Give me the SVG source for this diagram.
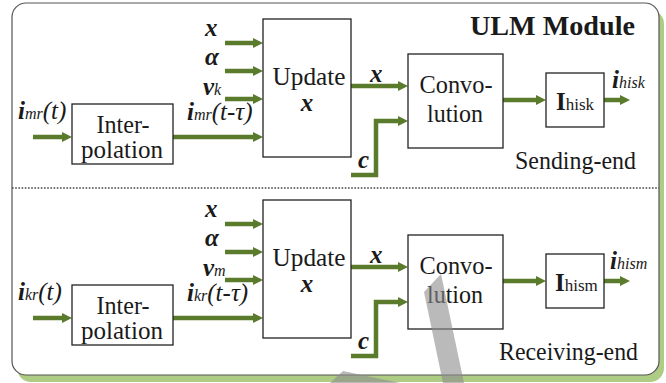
<svg xmlns="http://www.w3.org/2000/svg" width="666" height="383" viewBox="0 0 666 383">
<style>
.box{fill:#fff;stroke:#222;stroke-width:1.3}
.ar{fill:none;stroke:#5b7b2c;stroke-width:4.5;marker-end:url(#ah)}
</style>
<defs>
<marker id="ah" viewBox="0 0 10 10" refX="4" refY="5" markerWidth="10" markerHeight="10" markerUnits="userSpaceOnUse" orient="auto">
<path d="M0,0 L10,5 L0,10 z" fill="#5b7b2c"/>
</marker>
</defs>
<rect x="17" y="10" width="647" height="372" rx="14" fill="#afcc84"/>
<rect x="12" y="3" width="647" height="372" rx="14" fill="#fff" stroke="#555" stroke-width="1.2"/>
<line x1="12" y1="188" x2="659" y2="188" stroke="#444" stroke-width="1.3" stroke-dasharray="1.6 1.6"/>
<text font-family="serif" fill="#1a1a1a" x="470" y="35" font-size="27" font-weight="bold" textLength="165" lengthAdjust="spacingAndGlyphs">ULM Module</text>
<text font-family="serif" fill="#1a1a1a" font-size="25" x="515" y="169" textLength="121" lengthAdjust="spacingAndGlyphs">Sending-end</text>
<text font-family="serif" fill="#1a1a1a" font-size="25" x="499" y="360" textLength="139" lengthAdjust="spacingAndGlyphs">Receiving-end</text>

<g id="connectors">
<path class="ar" d="M225,43 H257"/>
<path class="ar" d="M225,71 H257"/>
<path class="ar" d="M225,99 H257"/>
<path class="ar" d="M33,137 H66"/>
<path class="ar" d="M173,137 H257"/>
<path class="ar" d="M351,86 H402"/>
<path class="ar" d="M351,175 H376 V121 H402"/>
<path class="ar" d="M503,100 H540"/>
<path class="ar" d="M604,100 H624"/>
<path class="ar" d="M225,224 H257"/>
<path class="ar" d="M225,252 H257"/>
<path class="ar" d="M225,280 H257"/>
<path class="ar" d="M33,318 H66"/>
<path class="ar" d="M173,318 H257"/>
<path class="ar" d="M351,267 H402"/>
<path class="ar" d="M351,356 H376 V302 H402"/>
<path class="ar" d="M503,281 H540"/>
<path class="ar" d="M604,281 H624"/>
<text font-family="serif" fill="#1a1a1a" font-style="italic" font-weight="bold" x="205" y="36" font-size="25">x</text>
<text font-family="serif" fill="#1a1a1a" font-style="italic" font-weight="bold" x="205" y="65" font-size="25">α</text>
<text font-family="serif" fill="#1a1a1a" font-style="italic" x="203" y="95"><tspan font-weight="bold" font-size="25">v</tspan><tspan font-size="16">k</tspan></text>
<text font-family="serif" fill="#1a1a1a" font-style="italic" x="18" y="119"><tspan font-weight="bold" font-size="25">i</tspan><tspan font-size="16">mr</tspan><tspan font-size="25">(t)</tspan></text>
<text font-family="serif" fill="#1a1a1a" font-style="italic" x="187" y="120"><tspan font-weight="bold" font-size="25">i</tspan><tspan font-size="16">mr</tspan><tspan font-size="25">(t-τ)</tspan></text>
<text font-family="serif" fill="#1a1a1a" font-style="italic" font-weight="bold" x="370" y="82" font-size="25">x</text>
<text font-family="serif" fill="#1a1a1a" font-style="italic" font-weight="bold" x="358" y="168" font-size="25">c</text>
<text font-family="serif" fill="#1a1a1a" font-style="italic" x="612" y="88"><tspan font-weight="bold" font-size="25">i</tspan><tspan font-size="16">hisk</tspan></text>
<text font-family="serif" fill="#1a1a1a" font-style="italic" font-weight="bold" x="205" y="217" font-size="25">x</text>
<text font-family="serif" fill="#1a1a1a" font-style="italic" font-weight="bold" x="205" y="246" font-size="25">α</text>
<text font-family="serif" fill="#1a1a1a" font-style="italic" x="203" y="276"><tspan font-weight="bold" font-size="25">v</tspan><tspan font-size="16">m</tspan></text>
<text font-family="serif" fill="#1a1a1a" font-style="italic" x="18" y="300"><tspan font-weight="bold" font-size="25">i</tspan><tspan font-size="16">kr</tspan><tspan font-size="25">(t)</tspan></text>
<text font-family="serif" fill="#1a1a1a" font-style="italic" x="187" y="301"><tspan font-weight="bold" font-size="25">i</tspan><tspan font-size="16">kr</tspan><tspan font-size="25">(t-τ)</tspan></text>
<text font-family="serif" fill="#1a1a1a" font-style="italic" font-weight="bold" x="370" y="263" font-size="25">x</text>
<text font-family="serif" fill="#1a1a1a" font-style="italic" font-weight="bold" x="358" y="349" font-size="25">c</text>
<text font-family="serif" fill="#1a1a1a" font-style="italic" x="610" y="269"><tspan font-weight="bold" font-size="25">i</tspan><tspan font-size="16">hism</tspan></text>
</g>

<g id="interp-s">
<rect class="box" x="72" y="104" width="101" height="60"/>
<text font-family="serif" fill="#1a1a1a" font-size="25" x="123" y="133" text-anchor="middle" textLength="53" lengthAdjust="spacingAndGlyphs">Inter-</text>
<text font-family="serif" fill="#1a1a1a" font-size="25" x="122" y="158" text-anchor="middle" textLength="82" lengthAdjust="spacingAndGlyphs">polation</text>
</g>
<g id="update-s">
<rect class="box" x="263" y="19" width="88" height="138"/>
<text font-family="serif" fill="#1a1a1a" font-size="25" x="309" y="85" text-anchor="middle" textLength="73" lengthAdjust="spacingAndGlyphs">Update</text>
<text font-family="serif" fill="#1a1a1a" font-style="italic" font-weight="bold" x="307" y="111" font-size="25" text-anchor="middle">x</text>
</g>
<g id="conv-s">
<rect class="box" x="408" y="54" width="95" height="94"/>
<text font-family="serif" fill="#1a1a1a" font-size="25" x="456" y="93" text-anchor="middle" textLength="73" lengthAdjust="spacingAndGlyphs">Convo-</text>
<text font-family="serif" fill="#1a1a1a" font-size="25" x="455" y="122" text-anchor="middle" textLength="56" lengthAdjust="spacingAndGlyphs">lution</text>
</g>
<g id="ihisk">
<rect class="box" x="546" y="73" width="58" height="54"/>
<text font-family="serif" fill="#1a1a1a" x="556" y="110"><tspan font-size="25" font-weight="bold">I</tspan><tspan font-size="17">hisk</tspan></text>
</g>

<g id="interp-r">
<rect class="box" x="72" y="285" width="101" height="60"/>
<text font-family="serif" fill="#1a1a1a" font-size="25" x="123" y="314" text-anchor="middle" textLength="53" lengthAdjust="spacingAndGlyphs">Inter-</text>
<text font-family="serif" fill="#1a1a1a" font-size="25" x="122" y="339" text-anchor="middle" textLength="82" lengthAdjust="spacingAndGlyphs">polation</text>
</g>
<g id="update-r">
<rect class="box" x="263" y="200" width="88" height="138"/>
<text font-family="serif" fill="#1a1a1a" font-size="25" x="309" y="266" text-anchor="middle" textLength="73" lengthAdjust="spacingAndGlyphs">Update</text>
<text font-family="serif" fill="#1a1a1a" font-style="italic" font-weight="bold" x="307" y="292" font-size="25" text-anchor="middle">x</text>
</g>
<g id="conv-r">
<rect class="box" x="408" y="235" width="95" height="94"/>
<text font-family="serif" fill="#1a1a1a" font-size="25" x="456" y="274" text-anchor="middle" textLength="73" lengthAdjust="spacingAndGlyphs">Convo-</text>
<text font-family="serif" fill="#1a1a1a" font-size="25" x="455" y="303" text-anchor="middle" textLength="56" lengthAdjust="spacingAndGlyphs">lution</text>
</g>
<g id="ihism">
<rect class="box" x="546" y="254" width="58" height="54"/>
<text font-family="serif" fill="#1a1a1a" x="555" y="291"><tspan font-size="25" font-weight="bold">I</tspan><tspan font-size="17">hism</tspan></text>
</g>

<polygon points="424,292 441,274 464,383 443,383" fill="#8c8c8c" fill-opacity="0.6"/>
<polygon points="330,383 343,371 400,383" fill="#8c8c8c" fill-opacity="0.6"/>
</svg>
